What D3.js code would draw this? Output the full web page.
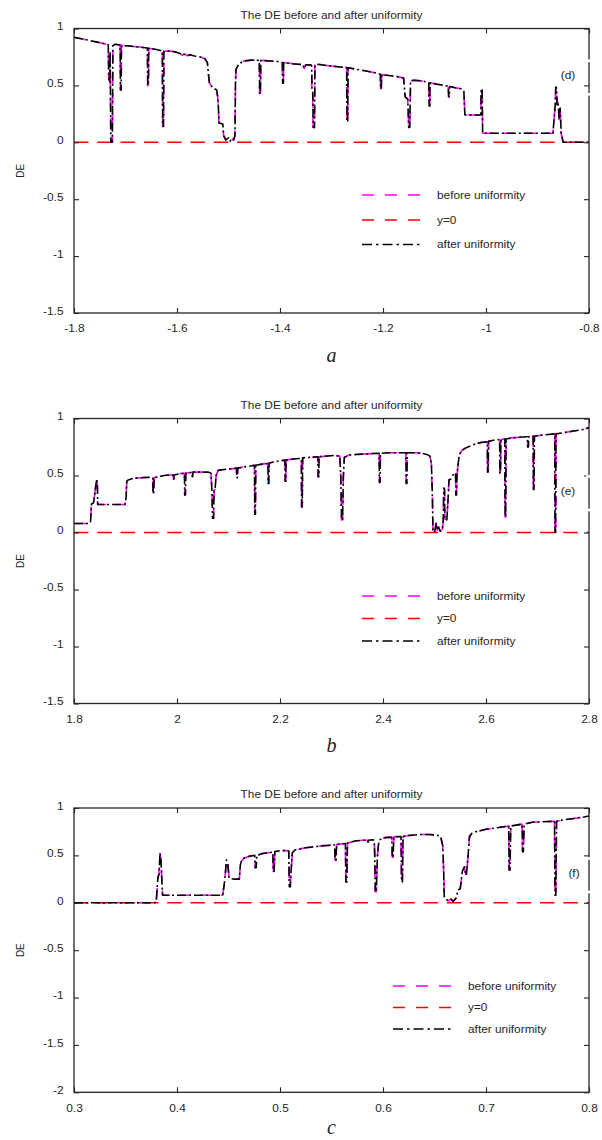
<!DOCTYPE html>
<html>
<head>
<meta charset="utf-8">
<script src="https://cdn.jsdelivr.net/npm/d3@7"></script>
<style>
  html, body { margin: 0; padding: 0; background: #fff; }
  svg { display: block; }
</style>
</head>
<body>
<svg id="fig" width="602" height="1140"></svg>
<script>
// ---- tick values and labels ----
const xTicksA = [-1.8, -1.6, -1.4, -1.2, -1.0, -0.8];
const xLabelsA = ["-1.8", "-1.6", "-1.4", "-1.2", "-1", "-0.8"];
const xTicksB = [1.8, 2.0, 2.2, 2.4, 2.6, 2.8];
const xLabelsB = ["1.8", "2", "2.2", "2.4", "2.6", "2.8"];
const xTicksC = [0.3, 0.4, 0.5, 0.6, 0.7, 0.8];
const xLabelsC = ["0.3", "0.4", "0.5", "0.6", "0.7", "0.8"];
const yTicksAB = [1, 0.5, 0, -0.5, -1, -1.5];
const yLabelsAB = ["1", "0.5", "0", "-0.5", "-1", "-1.5"];
const yTicksC = [1, 0.5, 0, -0.5, -1, -1.5, -2];
const yLabelsC = ["1", "0.5", "0", "-0.5", "-1", "-1.5", "-2"];

const legendLabels = ["before uniformity", "y=0", "after uniformity"];
const panelTags = ["(d)", "(e)", "(f)"];
const axisNames = ["a", "b", "c"];
const titleText = "The DE before and after uniformity";
const zeroLevel = 0;

// ---- DE curves [parameter, DE]; before/after uniformity coincide ----
const deA = [
  [-1.800,0.923],[-1.770,0.895],[-1.745,0.870],[-1.7335,0.858],
  [-1.7325,0.56],[-1.7310,0.54],[-1.7298,0.80],[-1.7285,0.0],[-1.7255,0.0],[-1.7245,0.85],[-1.7200,0.862],
  [-1.7105,0.855],[-1.7098,0.46],[-1.7085,0.46],[-1.7078,0.852],
  [-1.690,0.845],[-1.670,0.835],[-1.6575,0.828],
  [-1.6568,0.50],[-1.6555,0.50],[-1.6548,0.826],
  [-1.640,0.815],[-1.6285,0.802],
  [-1.6278,0.14],[-1.6262,0.14],[-1.6255,0.80],
  [-1.612,0.802],[-1.600,0.79],[-1.594,0.78],[-1.590,0.765],[-1.586,0.775],[-1.580,0.76],[-1.575,0.77],
  [-1.566,0.758],[-1.555,0.75],[-1.546,0.735],[-1.541,0.70],
  [-1.539,0.60],[-1.537,0.52],[-1.531,0.48],[-1.523,0.46],[-1.521,0.40],[-1.5195,0.30],[-1.5185,0.17],
  [-1.511,0.16],[-1.5095,0.06],[-1.505,0.02],[-1.500,0.04],[-1.497,0.01],[-1.494,0.035],[-1.490,0.02],
  [-1.4875,0.06],[-1.4865,0.50],[-1.4855,0.64],[-1.480,0.69],[-1.470,0.715],[-1.455,0.722],[-1.4402,0.72],
  [-1.4395,0.43],[-1.4380,0.43],[-1.4372,0.72],
  [-1.420,0.715],[-1.405,0.71],[-1.3955,0.70],
  [-1.3948,0.52],[-1.3935,0.52],[-1.3928,0.70],
  [-1.375,0.69],[-1.361,0.685],[-1.356,0.685],[-1.353,0.65],[-1.350,0.68],[-1.340,0.68],
  [-1.3385,0.67],[-1.3380,0.47],[-1.3365,0.45],[-1.3355,0.13],[-1.3330,0.13],[-1.3322,0.68],
  [-1.325,0.685],[-1.310,0.675],[-1.290,0.665],[-1.2705,0.657],
  [-1.2700,0.18],[-1.2685,0.18],[-1.2678,0.655],
  [-1.250,0.64],[-1.230,0.625],[-1.215,0.61],[-1.2052,0.598],
  [-1.2045,0.47],[-1.2032,0.47],[-1.2025,0.595],
  [-1.185,0.585],[-1.170,0.575],[-1.160,0.565],
  [-1.157,0.40],[-1.152,0.38],[-1.150,0.13],[-1.148,0.13],[-1.1465,0.54],
  [-1.140,0.545],[-1.125,0.54],[-1.1112,0.525],
  [-1.1105,0.32],[-1.1092,0.32],[-1.1085,0.522],
  [-1.095,0.51],[-1.080,0.50],[-1.0732,0.492],
  [-1.0725,0.40],[-1.0712,0.40],[-1.0705,0.49],
  [-1.060,0.48],[-1.048,0.47],[-1.043,0.45],
  [-1.041,0.24],[-1.025,0.24],[-1.0100,0.24],
  [-1.0095,0.47],[-1.0075,0.47],[-1.0065,0.08],
  [-0.950,0.08],[-0.900,0.08],[-0.870,0.08],
  [-0.866,0.30],[-0.8645,0.485],[-0.863,0.48],[-0.862,0.33],[-0.860,0.35],[-0.858,0.20],[-0.856,0.30],
  [-0.854,0.08],[-0.852,0.04],[-0.850,0.0],[-0.800,0.0]
];

const deB = [
  [1.800,0.079],[1.830,0.079],[1.832,0.09],[1.834,0.25],[1.838,0.26],[1.842,0.40],[1.844,0.47],[1.8455,0.40],[1.846,0.245],
  [1.870,0.245],[1.899,0.245],[1.901,0.30],[1.9025,0.45],[1.905,0.46],[1.915,0.475],[1.930,0.48],[1.945,0.485],[1.953,0.48],
  [1.9535,0.34],[1.9548,0.34],[1.9555,0.48],
  [1.965,0.49],[1.975,0.50],[1.985,0.505],[1.9925,0.505],
  [1.993,0.47],[1.994,0.47],[1.9945,0.505],
  [2.005,0.515],[2.0145,0.52],
  [2.015,0.33],[2.0163,0.33],[2.017,0.52],
  [2.025,0.525],[2.029,0.53],[2.0295,0.49],[2.0305,0.49],[2.031,0.53],
  [2.045,0.53],[2.060,0.53],[2.066,0.52],
  [2.068,0.35],[2.069,0.125],[2.071,0.125],[2.072,0.37],[2.074,0.38],[2.076,0.50],
  [2.080,0.545],[2.095,0.555],[2.110,0.56],[2.1155,0.565],
  [2.116,0.48],[2.1172,0.48],[2.118,0.565],
  [2.130,0.575],[2.145,0.585],[2.1505,0.59],
  [2.151,0.16],[2.1522,0.16],[2.153,0.59],
  [2.165,0.60],[2.1765,0.605],
  [2.177,0.43],[2.1782,0.43],[2.179,0.61],
  [2.195,0.625],[2.2095,0.635],
  [2.210,0.45],[2.2112,0.45],[2.212,0.635],
  [2.225,0.645],[2.2415,0.65],
  [2.242,0.225],[2.2432,0.225],[2.244,0.655],
  [2.260,0.66],[2.2735,0.665],
  [2.274,0.49],[2.2752,0.49],[2.276,0.665],
  [2.290,0.67],[2.305,0.675],[2.316,0.67],
  [2.318,0.49],[2.3195,0.11],[2.3215,0.11],[2.323,0.49],[2.325,0.66],
  [2.335,0.68],[2.350,0.685],[2.370,0.69],[2.3925,0.695],
  [2.393,0.44],[2.3942,0.44],[2.395,0.695],
  [2.410,0.70],[2.430,0.70],[2.4445,0.70],
  [2.445,0.43],[2.4462,0.43],[2.447,0.70],
  [2.460,0.70],[2.475,0.695],[2.485,0.685],[2.491,0.67],
  [2.494,0.60],[2.496,0.30],[2.497,0.02],[2.500,0.0],[2.503,0.08],[2.505,0.02],[2.508,0.05],[2.511,0.01],[2.515,0.02],
  [2.517,0.10],[2.518,0.39],[2.5195,0.38],[2.520,0.12],[2.524,0.11],[2.527,0.35],[2.528,0.46],[2.532,0.47],[2.538,0.52],[2.541,0.52],
  [2.5415,0.33],[2.5425,0.33],[2.544,0.52],
  [2.548,0.68],[2.553,0.72],[2.560,0.74],[2.575,0.77],[2.590,0.79],[2.6025,0.795],
  [2.603,0.53],[2.6042,0.53],[2.605,0.80],
  [2.615,0.81],[2.6265,0.815],
  [2.627,0.52],[2.6282,0.52],[2.629,0.815],
  [2.6365,0.82],
  [2.637,0.137],[2.6382,0.137],[2.639,0.82],
  [2.650,0.83],[2.665,0.835],[2.6805,0.84],
  [2.681,0.75],[2.6822,0.75],[2.683,0.84],
  [2.6915,0.845],
  [2.692,0.377],[2.6932,0.377],[2.694,0.845],
  [2.710,0.855],[2.7335,0.865],
  [2.734,0.0],[2.7352,0.0],[2.736,0.865],
  [2.750,0.875],[2.770,0.89],[2.790,0.905],[2.800,0.92]
];

const deC = [
  [0.300,0.0],[0.3786,0.0],[0.3800,0.04],[0.3815,0.27],[0.3825,0.30],[0.3835,0.52],[0.3845,0.45],[0.3850,0.30],[0.3860,0.08],
  [0.410,0.08],[0.430,0.08],[0.4444,0.08],
  [0.4465,0.25],[0.4480,0.45],[0.4495,0.40],[0.4505,0.26],[0.455,0.25],[0.4605,0.25],
  [0.4615,0.40],[0.4625,0.44],[0.465,0.47],[0.470,0.49],[0.4755,0.50],
  [0.476,0.37],[0.4768,0.37],[0.4775,0.50],
  [0.483,0.52],[0.490,0.53],[0.4930,0.535],
  [0.4935,0.33],[0.4943,0.33],[0.495,0.54],
  [0.500,0.55],[0.506,0.55],[0.5085,0.545],
  [0.509,0.17],[0.510,0.17],[0.5105,0.30],[0.512,0.53],
  [0.515,0.56],[0.525,0.58],[0.540,0.60],[0.5530,0.61],
  [0.5535,0.45],[0.5543,0.45],[0.555,0.615],
  [0.5635,0.625],
  [0.564,0.22],[0.5648,0.22],[0.5655,0.63],
  [0.572,0.65],[0.580,0.66],[0.5850,0.66],[0.5855,0.64],[0.586,0.66],[0.590,0.665],[0.5915,0.66],
  [0.592,0.50],[0.5925,0.116],[0.5935,0.116],[0.5945,0.48],[0.596,0.66],
  [0.600,0.685],[0.605,0.69],[0.6085,0.69],
  [0.609,0.48],[0.6098,0.48],[0.6105,0.695],
  [0.6175,0.70],
  [0.618,0.22],[0.6188,0.22],[0.6195,0.70],
  [0.625,0.71],[0.635,0.72],[0.645,0.72],[0.652,0.715],[0.656,0.70],
  [0.658,0.60],[0.659,0.30],[0.6595,0.06],[0.662,0.03],[0.664,0.02],[0.666,0.04],[0.668,0.015],[0.670,0.035],
  [0.6715,0.06],[0.6725,0.13],[0.675,0.15],[0.677,0.33],[0.679,0.38],[0.6805,0.29],[0.681,0.30],[0.6825,0.48],
  [0.684,0.70],[0.686,0.73],[0.690,0.75],[0.700,0.775],[0.710,0.79],[0.7220,0.81],
  [0.7225,0.345],[0.7233,0.345],[0.724,0.81],
  [0.7350,0.83],
  [0.7355,0.54],[0.7363,0.54],[0.737,0.83],
  [0.745,0.85],[0.755,0.855],[0.7665,0.86],
  [0.767,0.08],[0.7678,0.08],[0.7685,0.86],
  [0.775,0.875],[0.785,0.89],[0.795,0.905],[0.800,0.915]
];

// ---- layout ----
const plotL = 74, plotR = 589;
const axisColor = "#262626";
const fontFam = "'Liberation Sans', Arial, Helvetica, sans-serif";
const fontSize = 10.5;
const stretchX = 1.13;

const panels = [
  { top: 28.5, h: 284.5, xDomain: [-1.8, -0.8], yDomain: [-1.5, 1], data: deA,
    xTicks: xTicksA, xLabels: xLabelsA, yTicks: yTicksAB, yLabels: yLabelsAB,
    legendX: 362, legendRows: [195, 220, 244.5], tagX: 568, tagY: 75, nameY: 361.5 },
  { top: 418.5, h: 285, xDomain: [1.8, 2.8], yDomain: [-1.5, 1], data: deB,
    xTicks: xTicksB, xLabels: xLabelsB, yTicks: yTicksAB, yLabels: yLabelsAB,
    legendX: 362, legendRows: [596, 618.5, 641], tagX: 568, tagY: 490.7, nameY: 752 },
  { top: 808, h: 284.3, xDomain: [0.3, 0.8], yDomain: [-2, 1], data: deC,
    xTicks: xTicksC, xLabels: xLabelsC, yTicks: yTicksC, yLabels: yLabelsC,
    legendX: 393, legendRows: [986, 1007.5, 1029], tagX: 574, tagY: 872.7, nameY: 1133.5 }
];

const styles = {
  before: { color: "#ff00ff", dash: "12,9" },
  zero:   { color: "#ff0000", dash: "14.5,8.8" },
  after:  { color: "#000000", dash: "9,3,2,3" }
};
const legendDash = ["12,11", "12,11", "10,4,2.5,4"];
const legendColors = [styles.before.color, styles.zero.color, styles.after.color];

const svg = d3.select("#fig");

function addText(g, x, y, str, opts = {}) {
  return g.append("text")
    .attr("transform", `translate(${x},${y}) scale(${opts.sx || stretchX},1)`)
    .attr("text-anchor", opts.anchor || "start")
    .attr("font-family", fontFam)
    .attr("font-size", opts.size || fontSize)
    .attr("fill", axisColor)
    .text(str);
}

panels.forEach((p, idx) => {
  const g = svg.append("g");
  const bottom = p.top + p.h;
  const x = d3.scaleLinear().domain(p.xDomain).range([plotL, plotR]);
  const y = d3.scaleLinear().domain(p.yDomain).range([bottom, p.top]);
  const line = d3.line().x(d => x(d[0])).y(d => y(d[1]));

  // curves: before uniformity, y=0, after uniformity
  g.append("path").datum(p.data).attr("d", line)
    .attr("fill", "none").attr("stroke", styles.before.color)
    .attr("stroke-width", 1.6).attr("stroke-dasharray", styles.before.dash)
    .attr("stroke-linejoin", "round");
  g.append("path").datum(p.xDomain.map(v => [v, zeroLevel])).attr("d", line)
    .attr("fill", "none").attr("stroke", styles.zero.color)
    .attr("stroke-width", 1.6).attr("stroke-dasharray", styles.zero.dash);
  g.append("path").datum(p.data).attr("d", line)
    .attr("fill", "none").attr("stroke", styles.after.color)
    .attr("stroke-width", 1.6).attr("stroke-dasharray", styles.after.dash)
    .attr("stroke-linejoin", "round");

  // axes with inward ticks
  const styleAxis = sel => {
    sel.select(".domain").remove();
    sel.attr("color", axisColor);
    sel.selectAll(".tick line").attr("stroke-width", 1.1);
    sel.selectAll(".tick text")
      .attr("font-family", fontFam).attr("font-size", fontSize)
      .attr("fill", axisColor)
      .attr("transform", `scale(${stretchX},1)`);
  };
  g.append("g").attr("transform", `translate(0,${bottom})`)
    .call(d3.axisBottom(x).tickValues(p.xTicks).tickFormat((d, i) => p.xLabels[i])
      .tickSizeInner(-5).tickSizeOuter(0).tickPadding(12))
    .call(styleAxis);
  g.append("g").attr("transform", `translate(0,${p.top})`)
    .call(d3.axisTop(x).tickValues(p.xTicks).tickFormat("")
      .tickSizeInner(-5).tickSizeOuter(0))
    .call(styleAxis);
  const left = g.append("g").attr("transform", `translate(${plotL},0)`)
    .call(d3.axisLeft(y).tickValues(p.yTicks).tickFormat((d, i) => p.yLabels[i])
      .tickSizeInner(-5).tickSizeOuter(0).tickPadding(10.5 / stretchX))
    .call(styleAxis);
  left.selectAll(".tick text").attr("dy", "0.12em");
  g.append("g").attr("transform", `translate(${plotR},0)`)
    .call(d3.axisRight(y).tickValues(p.yTicks).tickFormat("")
      .tickSizeInner(-5).tickSizeOuter(0))
    .call(styleAxis);

  // frame
  g.append("rect")
    .attr("x", plotL).attr("y", p.top)
    .attr("width", plotR - plotL).attr("height", p.h)
    .attr("fill", "none").attr("stroke", axisColor).attr("stroke-width", 1.3);

  // white edges of the panel-tag box crossing the right axis
  [-15.5, 18].forEach(off => {
    g.append("rect").attr("x", plotR - 3).attr("y", p.tagY + off)
      .attr("width", 6).attr("height", 2.6).attr("fill", "#fff");
  });
  addText(g, p.tagX, p.tagY + 3.8, panelTags[idx], { anchor: "middle" });

  // title
  addText(g, (plotL + plotR) / 2, p.top - 10, titleText, { anchor: "middle" });

  // y label
  g.append("text")
    .attr("transform", `translate(20.3,${p.top + p.h / 2}) rotate(-90)`)
    .attr("text-anchor", "middle").attr("dominant-baseline", "central")
    .attr("font-family", fontFam).attr("font-size", 10)
    .attr("fill", axisColor).text("DE");

  // x label (parameter name)
  g.append("text")
    .attr("x", (plotL + plotR) / 2).attr("y", p.nameY)
    .attr("text-anchor", "middle")
    .attr("font-family", "'Liberation Serif', 'Times New Roman', serif")
    .attr("font-style", "italic").attr("font-size", 20)
    .attr("fill", "#222").text(axisNames[idx]);

  // legend
  legendLabels.forEach((lab, i) => {
    const ry = p.legendRows[i];
    g.append("line")
      .attr("x1", p.legendX).attr("x2", p.legendX + 61)
      .attr("y1", ry).attr("y2", ry)
      .attr("stroke", legendColors[i]).attr("stroke-width", 1.6)
      .attr("stroke-dasharray", legendDash[i]);
    addText(g, p.legendX + 75, ry + 3.8, lab);
  });
});
</script>
</body>
</html>
